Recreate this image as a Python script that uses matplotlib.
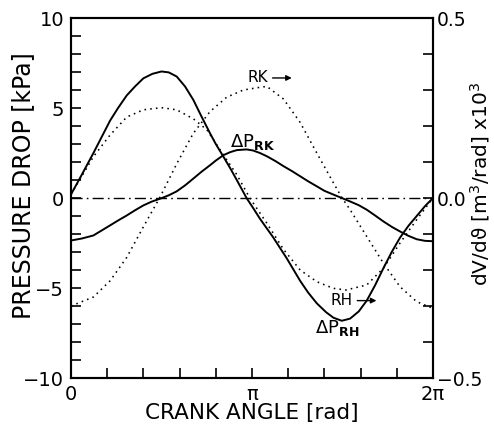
import numpy as np
import matplotlib
matplotlib.use("Agg")
import matplotlib.pyplot as plt

plt.rcParams['font.family'] = ['DejaVu Sans']
plt.rcParams['mathtext.fontset'] = 'dejavusans'
plt.rcParams['axes.unicode_minus'] = True

TWO_PI = 2 * np.pi

# pressure drop across the hot side regenerator [kPa], angle as fraction of a revolution
rh_frac = [0, 0.03, 0.062, 0.085, 0.108, 0.13, 0.154, 0.177, 0.2, 0.225, 0.25, 0.27, 0.292,
           0.315, 0.338, 0.36, 0.384, 0.40, 0.421, 0.44, 0.458, 0.485, 0.503, 0.522, 0.559,
           0.596, 0.633, 0.655, 0.679, 0.705, 0.725, 0.748, 0.771, 0.795, 0.817, 0.84, 0.863,
           0.886, 0.909, 0.932, 0.955, 0.978, 1.0]
dp_rh = [0.2, 1.3, 2.5, 3.4, 4.3, 5.0, 5.7, 6.2, 6.65, 6.9, 7.03, 6.98, 6.75,
         6.2, 5.45, 4.55, 3.6, 3.0, 2.3, 1.65, 1.0, 0.0, -0.55, -1.15, -2.2,
         -3.35, -4.6, -5.25, -5.85, -6.35, -6.65, -6.82, -6.7, -6.3, -5.7, -4.85, -3.9,
         -3.0, -2.2, -1.55, -1.0, -0.45, 0.0]

# pressure drop across the cold side regenerator [kPa]
rk_frac = [0, 0.03, 0.062, 0.085, 0.108, 0.13, 0.154, 0.177, 0.2, 0.223, 0.246, 0.27, 0.292,
           0.315, 0.338, 0.36, 0.384, 0.40, 0.421, 0.44, 0.458, 0.485, 0.503, 0.522, 0.541,
           0.565, 0.587, 0.61, 0.633, 0.655, 0.679, 0.70, 0.725, 0.748, 0.771, 0.795, 0.817,
           0.84, 0.863, 0.886, 0.909, 0.932, 0.955, 0.978, 1.0]
dp_rk = [-2.36, -2.25, -2.08, -1.8, -1.52, -1.25, -0.97, -0.68, -0.41, -0.2, -0.04, 0.15, 0.37,
         0.7, 1.08, 1.45, 1.82, 2.08, 2.38, 2.55, 2.66, 2.7, 2.64, 2.5, 2.32,
         2.05, 1.77, 1.5, 1.21, 0.93, 0.65, 0.4, 0.19, 0.0, -0.19, -0.4, -0.65,
         -0.97, -1.3, -1.6, -1.86, -2.1, -2.29, -2.38, -2.4]

# volume flow rates dV/dtheta [m3/rad x1e3]
vh_frac = [0, 0.062, 0.108, 0.154, 0.2, 0.25, 0.292, 0.338, 0.375, 0.421, 0.458, 0.494,
           0.541, 0.587, 0.633, 0.679, 0.725, 0.76, 0.817, 0.863, 0.909, 0.955, 1.0]
flow_rh = [0.01, 0.115, 0.175, 0.225, 0.245, 0.251, 0.245, 0.22, 0.19, 0.12, 0.065, 0.0,
           -0.07, -0.1425, -0.2, -0.2325, -0.251, -0.2555, -0.2415, -0.195, -0.125, -0.06, 0.0]

vk_frac = [0, 0.062, 0.108, 0.154, 0.2, 0.246, 0.292, 0.338, 0.384, 0.43, 0.476, 0.522,
           0.541, 0.587, 0.633, 0.679, 0.725, 0.749, 0.771, 0.817, 0.863, 0.909, 0.955, 1.0]
flow_rk = [-0.30, -0.275, -0.23, -0.165, -0.08, 0.0025, 0.095, 0.18, 0.24, 0.28, 0.30, 0.3075,
           0.31, 0.275, 0.21, 0.125, 0.042, 0.0, -0.0325, -0.107, -0.181, -0.2465, -0.288, -0.3065]

fig = plt.figure(figsize=(4.94, 4.28), dpi=100)
ax = fig.add_axes([0.1437, 0.1168, 0.7328, 0.8411])
ax2 = ax.twinx()

ax.plot(np.array(rh_frac) * TWO_PI, dp_rh, color='black', lw=1.4)
ax.plot(np.array(rk_frac) * TWO_PI, dp_rk, color='black', lw=1.4)
ax.axhline(0, color='black', lw=1.0, ls=(0, (8, 3, 1.2, 3)))

dots = (0, (1, 2.6))
ax2.plot(np.array(vh_frac) * TWO_PI, flow_rh, color='black', lw=1.15, ls=dots)
ax2.plot(np.array(vk_frac) * TWO_PI, flow_rk, color='black', lw=1.15, ls=dots)

ax.set_xlim(0, TWO_PI)
ax.set_ylim(-10, 10)
ax2.set_ylim(-0.5, 0.5)

xt = np.linspace(0, TWO_PI, 11)
ax.set_xticks(xt)
ax.set_xticklabels(['0', '', '', '', '', 'π', '', '', '', '', '2π'])
ax.set_yticks([-10, -5, 0, 5, 10])
ax.set_yticks(np.arange(-10, 11, 1), minor=True)
ax2.set_yticks([-0.5, 0.0, 0.5])
ax2.set_yticklabels(['−0.5', '0.0', '0.5'])
ax2.set_yticks(np.arange(-0.5, 0.51, 0.1), minor=True)

ax.tick_params(axis='both', which='both', direction='in', length=7, width=1.2,
               labelsize=14, top=False, right=False)
ax.tick_params(axis='x', pad=5)
ax.tick_params(axis='y', pad=5)
ax2.tick_params(axis='y', which='both', direction='in', length=7, width=1.2,
                labelsize=13.5, pad=3)

for a in (ax, ax2):
    for s in a.spines.values():
        s.set_linewidth(1.5)

ax.set_xlabel('CRANK ANGLE [rad]', fontsize=15.5, labelpad=-1)
ax.set_ylabel('PRESSURE DROP [kPa]', fontsize=17)
ax.yaxis.set_label_coords(-0.1, 0.535)
fig.text(480 / 494, 1 - 184 / 428, r'dV/dϑ [m$^3$/rad] x10$^3$', fontsize=14.5,
         rotation=90, ha='center', va='center')

# curve labels
ax.text(3.42, 6.67, 'RK', fontsize=11, ha='right', va='center')
ax.annotate('', xy=(3.88, 6.67), xytext=(3.45, 6.67),
            arrowprops=dict(arrowstyle='-|>', color='black', lw=1.0, mutation_scale=8))
ax.text(3.16, 3.1, r'$\Delta\mathrm{P}_{\mathbf{RK}}$', fontsize=13, ha='center', va='center')
ax.text(4.89, -5.7, 'RH', fontsize=11, ha='right', va='center')
ax.annotate('', xy=(5.35, -5.7), xytext=(4.92, -5.7),
            arrowprops=dict(arrowstyle='-|>', color='black', lw=1.0, mutation_scale=8))
ax.text(4.62, -7.2, r'$\Delta\mathrm{P}_{\mathbf{RH}}$', fontsize=13, ha='center', va='center')

fig.savefig('out.png', dpi=100)
